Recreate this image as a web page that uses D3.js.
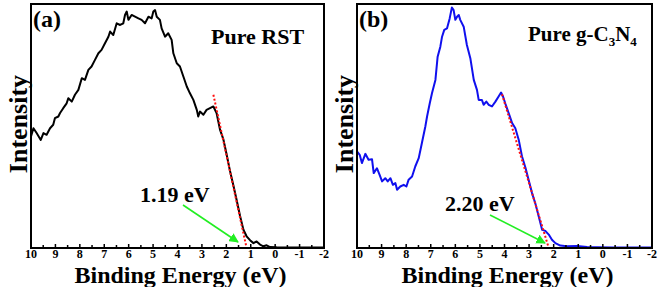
<!DOCTYPE html>
<html><head><meta charset="utf-8">
<script src="https://cdn.jsdelivr.net/npm/d3@7"></script>
<style>html,body{margin:0;padding:0;background:#fff;}svg{display:block;}</style>
</head><body>
<svg id="c" width="661" height="287"></svg>
<script>
// Panel (a) Pure RST
const energyA = [10,9.90,9.77,9.60,9.49,9.36,9.22,9.09,9.02,8.88,8.81,8.68,8.54,8.47,8.33,8.20,8.06,7.92,7.79,7.65,7.52,7.38,7.24,7.11,6.97,6.83,6.76,6.63,6.49,6.35,6.22,6.15,6.08,6.01,5.88,5.74,5.60,5.47,5.33,5.19,5.06,4.99,4.92,4.85,4.72,4.65,4.51,4.38,4.24,4.17,4.03,3.90,3.76,3.62,3.49,3.35,3.21,3.15,3.08,2.94,2.81,2.67,2.53,2.40,2.26,2.12,1.99,1.85,1.71,1.58,1.44,1.30,1.17,1.03,0.89,0.76,0.62,0.48,0.35,0.21,-0.06,-1.02,-1.97];
const intensityA = [45.7,49.1,47.1,44.3,47.1,46.4,49.1,50.5,53.2,53.9,55.3,57.3,59.3,61.4,60.0,62.8,64.8,69.6,68.9,73.0,74.4,77.1,79.8,81.2,83.9,86.6,88.7,87.3,92.1,91.4,92.1,95.5,96.9,93.5,95.5,94.8,94.1,93.5,92.1,94.8,94.1,96.9,97.5,94.8,93.5,90.0,86.6,88.0,85.3,79.8,75.7,74.4,70.3,66.2,63.4,60.7,56.6,53.9,55.9,54.6,56.6,57.3,58.0,55.3,48.5,44.5,38.4,31.6,25.6,19.8,13.2,7.5,4.8,3.2,2.0,2.7,1.4,0.7,1.1,0.4,0.3,0.2,0.2];
const fitEnergyA = [2.53,1.17];
const fitIntensityA = [62.8,0];

// Panel (b) Pure g-C3N4
const energyB = [10,9.89,9.80,9.66,9.53,9.39,9.32,9.19,9.08,8.98,8.85,8.75,8.64,8.54,8.44,8.37,8.24,8.10,7.99,7.90,7.76,7.63,7.49,7.36,7.22,7.15,7.04,6.95,6.81,6.72,6.61,6.54,6.45,6.34,6.23,6.14,6.07,6.00,5.93,5.86,5.80,5.66,5.53,5.39,5.25,5.12,5.05,4.92,4.85,4.74,4.64,4.51,4.37,4.24,4.14,4.06,3.97,3.83,3.69,3.56,3.42,3.29,3.15,3.02,2.88,2.75,2.61,2.47,2.34,2.20,2.07,1.93,1.73,1.46,1.05,0.64,0.24,-0.44,-1.12,-2.0];
const intensityB = [39.6,38.2,34.8,38.6,36.2,36.4,30.7,32.7,30.0,27.3,28.6,27.3,28.6,25.9,26.6,23.9,25.2,25.9,25.2,28.0,29.3,33.4,36.8,43.0,49.8,53.9,59.3,63.4,68.9,78.4,82.5,86.6,89.4,90.0,94.1,98.6,97.5,93.5,94.8,95.5,93.5,90.7,83.2,77.8,68.9,64.8,60.7,60.7,58.7,60.0,58.7,58.0,60.0,62.1,63.7,62.1,59.3,55.3,51.2,49.1,44.3,37.6,33.0,28.0,22.5,18.4,13.0,7.5,7.0,5.5,3.4,2.0,1.0,0.7,0.8,0.4,0.3,0.2,0.2,0.2];
const fitEnergyB = [4.10,2.20];
const fitIntensityB = [63.0,0];

const tickLabels = [10,9,8,7,6,5,4,3,2,1,0,-1,-2];
const minorTicks = d3.range(20,-4.5,-1).map(d=>d/2);

const FONT = "'Liberation Serif', Tinos, 'Times New Roman', serif";
const svg = d3.select("#c");

function txt(sel){ return sel.attr("font-family",FONT).attr("font-weight","bold").attr("fill","#000"); }

function panel(opt){
  const x = d3.scaleLinear().domain([10,-2]).range([opt.x0, opt.x1]);
  const y = d3.scaleLinear().domain([0,100]).range([248,4]);
  const g = svg.append("g");
  const line = d3.line().x(d=>x(d[0])).y(d=>y(d[1]));
  g.append("path").datum(opt.e.map((v,i)=>[v,opt.i[i]]))
    .attr("d",line).attr("fill","none").attr("stroke",opt.color)
    .attr("stroke-width",2).attr("stroke-linejoin","round");
  g.append("path").datum(opt.fe.map((v,i)=>[v,opt.fi[i]]))
    .attr("d",line).attr("fill","none").attr("stroke","#ff1010")
    .attr("stroke-width",2).attr("stroke-dasharray","2,2");
  g.selectAll("line.tk").data(minorTicks).enter().append("line")
    .attr("x1",d=>x(d)).attr("x2",d=>x(d))
    .attr("y1",248).attr("y2",d=>Number.isInteger(d)?244:245)
    .attr("stroke","#000").attr("stroke-width",1.5);
  g.append("rect").attr("x",opt.x0).attr("y",4).attr("width",opt.x1-opt.x0).attr("height",244)
    .attr("fill","none").attr("stroke","#000").attr("stroke-width",2);
  txt(g.selectAll("text.tl").data(tickLabels).enter().append("text"))
    .attr("x",d=>x(d)).attr("y",257.5).attr("text-anchor","middle")
    .attr("font-size",12).text(d=>d);
  txt(g.append("text")).attr("x",(opt.x0+opt.x1)/2+3).attr("y",282.5).attr("text-anchor","middle")
    .attr("font-size",24).text("Binding Energy (eV)");
  txt(g.append("text")).attr("transform",`translate(${opt.x0-4},124) rotate(-90)`)
    .attr("text-anchor","middle").attr("font-size",26).text("Intensity");
  txt(g.append("text")).attr("x",opt.x0+2).attr("y",27).attr("font-size",24).text(opt.tag);
  g.append("line").attr("x1",opt.ax1).attr("y1",opt.ay1).attr("x2",opt.ax2).attr("y2",opt.ay2)
    .attr("stroke","#22ee22").attr("stroke-width",1.6).attr("marker-end","url(#ah)");
  txt(g.append("text")).attr("x",opt.lx).attr("y",opt.ly).attr("font-size",22).text(opt.gap);
  return g;
}

svg.append("defs").append("marker").attr("id","ah").attr("viewBox","0 0 10 10")
  .attr("refX",9).attr("refY",5).attr("markerWidth",6).attr("markerHeight",6)
  .attr("orient","auto").attr("markerUnits","strokeWidth")
  .append("path").attr("d","M0,0 L10,5 L0,10 z").attr("fill","#22ee22");

panel({x0:31,x1:324,e:energyA,i:intensityA,fe:fitEnergyA,fi:fitIntensityA,color:"#000",tag:"(a)",
  ax1:183,ay1:205,ax2:238,ay2:242,lx:140,ly:202,gap:"1.19 eV"});
panel({x0:357,x1:652,e:energyB,i:intensityB,fe:fitEnergyB,fi:fitIntensityB,color:"#1010ee",tag:"(b)",
  ax1:490,ay1:215,ax2:545,ay2:243,lx:445,ly:211,gap:"2.20 eV"});

txt(svg.append("text")).attr("x",211).attr("y",44).attr("font-size",22).text("Pure RST");
const t = txt(svg.append("text")).attr("x",528).attr("y",41).attr("font-size",21);
t.append("tspan").text("Pure g-C");
t.append("tspan").attr("font-size",13).attr("dy",5).text("3");
t.append("tspan").attr("dy",-5).text("N");
t.append("tspan").attr("font-size",13).attr("dy",5).text("4");
</script>
</body></html>
